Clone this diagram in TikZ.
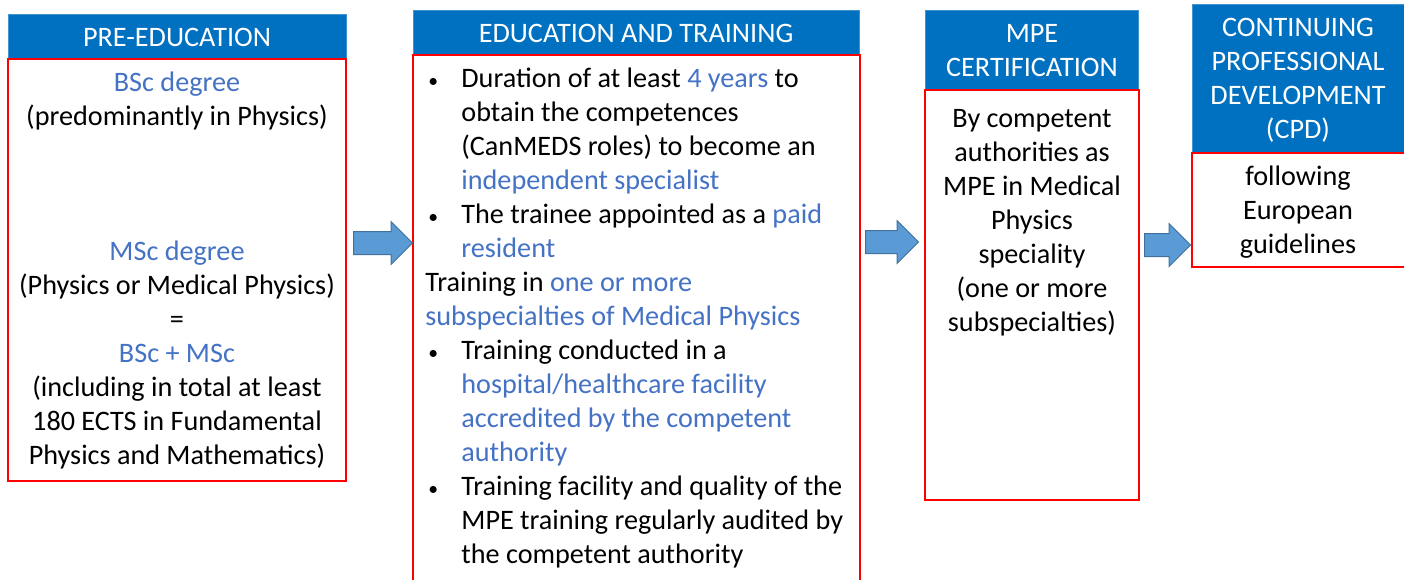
\documentclass[tikz,border=0pt]{standalone}
\usepackage{fontspec}
\setmainfont{Carlito}
\usetikzlibrary{shapes.arrows}
\definecolor{hdrblue}{HTML}{0070C0}
\definecolor{txtblue}{HTML}{4472C4}
\definecolor{arrblue}{HTML}{5B9BD5}
\definecolor{arredge}{HTML}{41719C}
\newcommand{\hl}[1]{\textcolor{txtblue}{#1}}
\newcommand{\bul}{\makebox[18pt][l]{\hspace{1.5pt}\scalebox{0.7}{\textbullet}}}
\newcommand{\ind}{\hspace*{18pt}}

\begin{document}
\begin{tikzpicture}[x=0.5pt,y=-0.5pt,
		hdr/.style={fill=hdrblue,draw=hdrblue!75!white,line width=0.4pt},
		body/.style={draw=red,line width=1pt},
		txt/.style={font=\fontsize{14.1}{17}\selectfont,align=center,inner sep=0pt},
		hdrtxt/.style={txt,text=white},
		bigarrow/.style={single arrow,fill=arrblue,draw=arredge,line width=0.5pt,anchor=tail,
			inner xsep=0pt,inner ysep=5.5pt,single arrow head extend=5pt}]
				\useasboundingbox (0,0) rectangle (1404,579);
				
				\draw[hdr] (8,14) rectangle (346,59);
				\draw[body] (8,59) rectangle (346,481);
				\node[hdrtxt] (prehead) at (177,37) {PRE-EDUCATION};
				\node[txt] (bsc) at (177,101) {\hl{BSc degree}\\(predominantly in Physics)};
				\node[txt] (msc) at (177,355) {\hl{MSc degree}\\(Physics or Medical Physics)\\=\\\hl{BSc + MSc}\\(including in total at least\\180 ECTS in Fundamental\\Physics and Mathematics)};
				
				\draw[hdr] (413,10) rectangle (859,55);
				\draw[body] (413,55) rectangle (860,585);
				\node[hdrtxt] (eduhead) at (636,33) {EDUCATION AND TRAINING};
				\node[txt,align=left,anchor=north west] (edulist) at (425,68) {%
					\bul Duration of at least \hl{4 years} to\\
					\ind obtain the competences\\
					\ind (CanMEDS roles) to become an\\
					\ind \hl{independent specialist}\\
					\bul The trainee appointed as a \hl{paid}\\
					\ind \hl{resident}\\
					Training in \hl{one or more}\\
					\hl{subspecialties of Medical Physics}\\
					\bul Training conducted in a\\
					\ind \hl{hospital/healthcare facility}\\
					\ind \hl{accredited by the competent}\\
					\ind \hl{authority}\\
					\bul Training facility and quality of the\\
					\ind MPE training regularly audited by\\
					\ind the competent authority};
				
				\draw[hdr] (925,10) rectangle (1138,90);
				\draw[body] (925,90) rectangle (1139,500);
				\node[hdrtxt] (certhead) at (1032,51) {MPE\\CERTIFICATION};
				\node[txt] (certtext) at (1032,223) {By competent\\authorities as\\MPE in Medical\\Physics\\speciality\\(one or more\\subspecialties)};
				
				\draw[hdr] (1192,4) rectangle (1410,153);
				\draw[body] (1192,153) rectangle (1410,267);
				\node[hdrtxt] (cpdhead) at (1298,80) {CONTINUING\\PROFESSIONAL\\DEVELOPMENT\\(CPD)};
				\node[txt] (cpdtext) at (1298,212) {following\\European\\guidelines};
				
				\node[bigarrow,minimum height=29.5pt] (arr1) at (353,243) {};
				\node[bigarrow,minimum height=26.5pt] (arr2) at (865,242) {};
				\node[bigarrow,minimum height=23pt] (arr3) at (1144,245) {};
			\end{tikzpicture}
\end{document}
